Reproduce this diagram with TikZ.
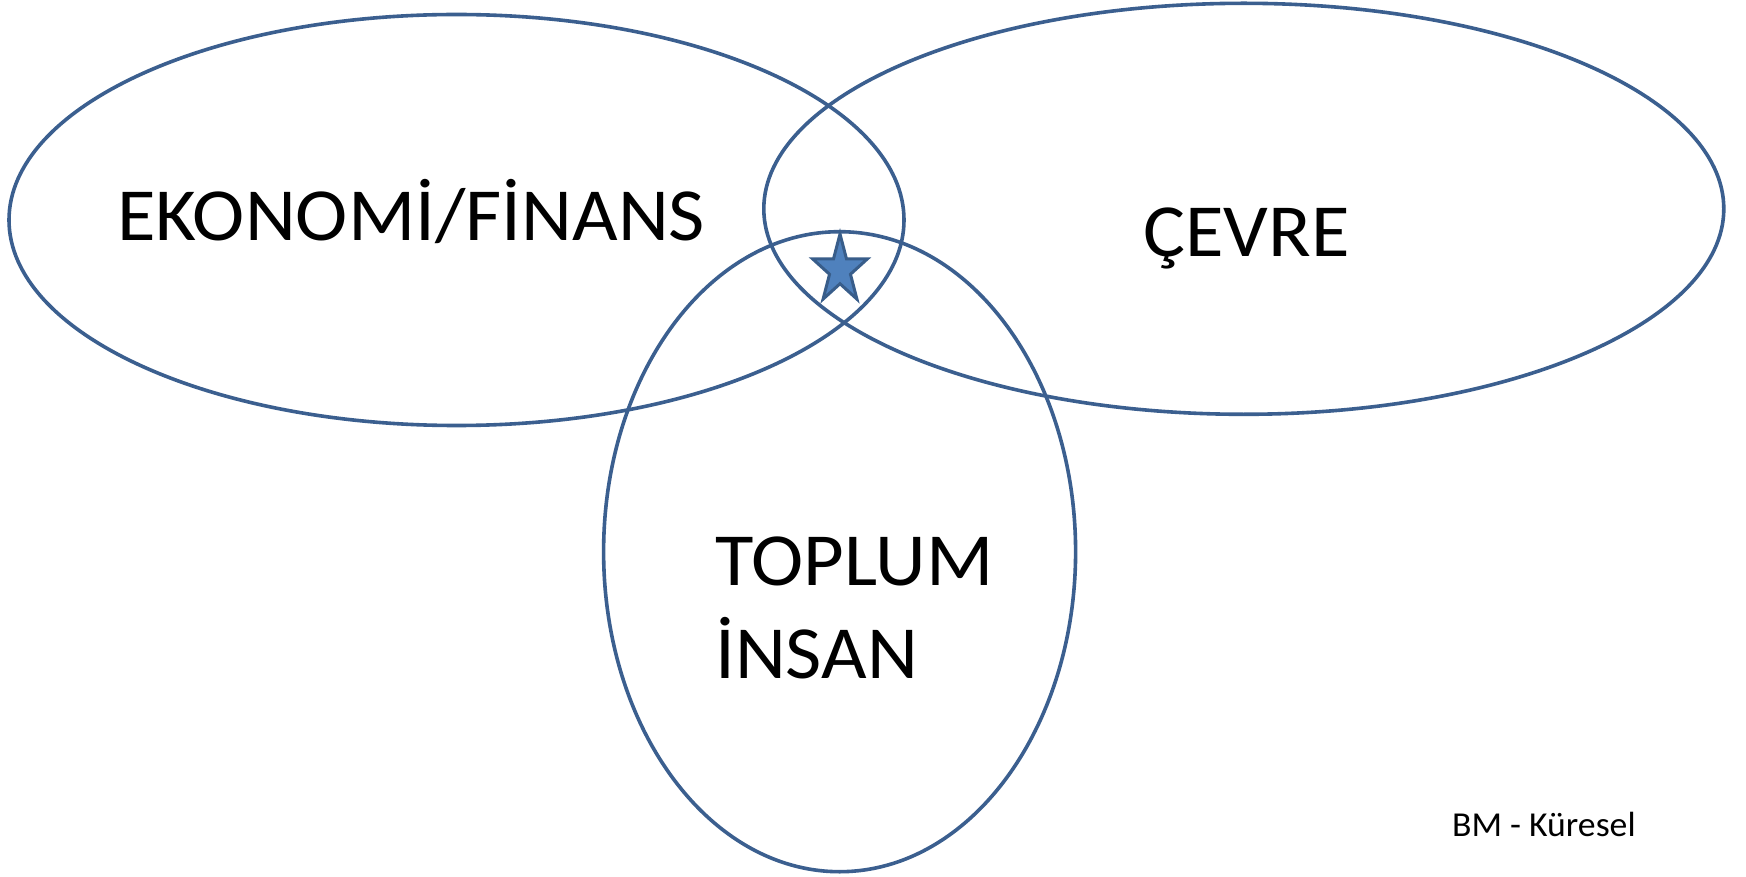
\documentclass[tikz,border=0pt]{standalone}
\usepackage{fontspec}
\setmainfont{Carlito}
\usetikzlibrary{shapes.geometric}
\definecolor{ringblue}{HTML}{3B5F8F}
\definecolor{starfill}{HTML}{4F81BD}
\definecolor{starline}{HTML}{385D8A}
\newcommand{\widetext}[1]{\scalebox{1.05}[1]{#1}}
\tikzset{
  ring/.style={ellipse, draw=ringblue, line width=3.6pt, inner sep=0pt, outer sep=0pt},
  bigtext/.style={anchor=base west, inner sep=0pt, font=\fontsize{75}{90}\selectfont, text=black},
  smalltext/.style={anchor=base west, inner sep=0pt, font=\fontsize{35}{42}\selectfont, text=black},
}
\begin{document}
\begin{tikzpicture}[x=1pt,y=-1pt]
\useasboundingbox[fill=white] (0,0) rectangle (1746,877);
\node[ring, minimum width=895pt, minimum height=411pt] (eko) at (456.5,220) {};
\node[ring, minimum width=960pt, minimum height=411pt] (cevre) at (1243.8,208.8) {};
\node[ring, minimum width=472pt, minimum height=640pt] (toplum) at (839.6,551.7) {};
\begin{scope}[shift={(840,270)}, xscale=0.8]
\node[star, star points=5, star point ratio=2.618, minimum size=72pt, inner sep=0pt,
      draw=starline, fill=starfill, line width=3pt, transform shape] (star) at (0,0) {};
\end{scope}
\node[bigtext] (tekonomi) at (117,240.5) {\widetext{EKONOMİ/FİNANS}};
\node[bigtext] (tcevre) at (1143,256.7) {\widetext{ÇEVRE}};
\node[bigtext] (ttoplum) at (715,585) {\widetext{TOPLUM}};
\node[bigtext] (tinsan) at (715,678) {\widetext{İNSAN}};
\node[smalltext] (tbm) at (1452,836.7) {\scalebox{1.02}[1]{BM - Küresel}};
\end{tikzpicture}
\end{document}
